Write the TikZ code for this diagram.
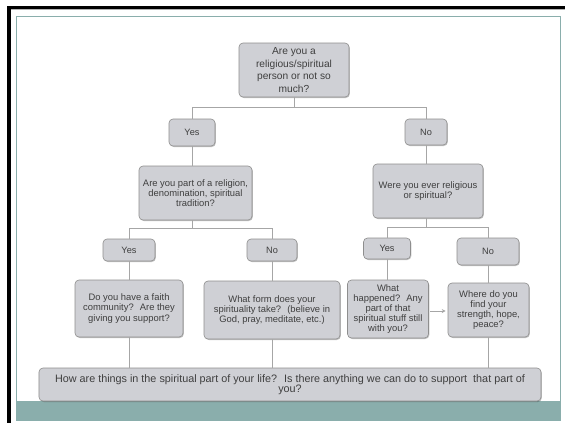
\documentclass[tikz,border=0pt]{standalone}
\usepackage{fontspec}
\setmainfont{Liberation Sans}
\usepackage{tikz}
\usetikzlibrary{
arrows.meta,
shadows
}
\definecolor{boxgray}{HTML}{CFD0D5}
\definecolor{edgegray}{HTML}{8E8E8E}
\definecolor{linegray}{HTML}{A6A6A6}
\definecolor{textgray}{HTML}{3F3F3F}
\definecolor{slideteal}{HTML}{8AAEAC}

\begin{document}
\begin{tikzpicture}[
        x=1bp, y=-1bp,
        every node/.style={align=center, text=textgray, inner sep=0pt},
        qbox/.style={draw=edgegray, fill=boxgray, rounded corners=4bp, line width=0.6bp,
            drop shadow={shadow xshift=0.8bp, shadow yshift=-1bp, fill=black, opacity=0.25}},
        ansbox/.style={qbox, font=\fontsize{9.2bp}{10bp}\selectfont},
        midtext/.style={font=\fontsize{9.4bp}{10.2bp}\selectfont},
        link/.style={draw=linegray, line width=0.9bp}
    ]
        \useasboundingbox (0,0) rectangle (565,423);

        % slide frame
        \fill[black] (7,5.5) rectangle (565,9);
        \draw[gray!60, line width=0.8bp] (11,9.6) -- (565,9.6);
        \fill[black] (7,5.5) rectangle (11,423);
        \fill[slideteal] (16,401) rectangle (560,420);
        \draw[slideteal, line width=1bp] (16,16) rectangle (560,420);

        % questions and answers
        \node[qbox, minimum width=110bp, minimum height=54bp, font=\fontsize{10.2bp}{12.7bp}\selectfont] (q1) at (294,70) {Are you a\\religious/spiritual\\person or not so\\much?};

        \node[ansbox, minimum width=46bp, minimum height=27bp] (yesA) at (192,132.5) {Yes};
        \node[ansbox, minimum width=42bp, minimum height=26bp] (noA) at (426,132) {No};

        \node[qbox, midtext, minimum width=113bp, minimum height=54bp] (q2L) at (195.5,193) {Are you part of a religion,\\denomination, spiritual\\tradition?};
        \node[qbox, midtext, minimum width=110bp, minimum height=54bp] (q2R) at (428,191) {Were you ever religious\\or spiritual?};

        \node[ansbox, minimum width=52bp, minimum height=22bp] (yesB) at (129,250) {Yes};
        \node[ansbox, minimum width=50bp, minimum height=22bp] (noB) at (272,250) {No};
        \node[ansbox, minimum width=47bp, minimum height=21bp] (yesC) at (387,248.5) {Yes};
        \node[ansbox, minimum width=62bp, minimum height=27bp] (noC) at (488,251.5) {No};

        \node[qbox, midtext, minimum width=108bp, minimum height=57bp] (q3a) at (129,308.5) {Do you have a faith\\community?~ Are they\\giving you support?};
        \node[qbox, midtext, minimum width=136bp, minimum height=58bp] (q3b) at (272,310) {What form does your\\spirituality take?~ (believe in\\God, pray, meditate, etc.)};
        \node[qbox, midtext, minimum width=81bp, minimum height=58bp] (q3c) at (388,309) {What\\happened?~ Any\\part of that\\spiritual stuff still\\with you?};
        \node[qbox, midtext, minimum width=81bp, minimum height=54bp] (q3d) at (488.5,310) {Where do you\\find your\\strength, hope,\\peace?};

        \node[qbox, minimum width=502bp, minimum height=33bp, font=\fontsize{10.8bp}{10.5bp}\selectfont] (last) at (290,384.5) {How are things in the spiritual part of your life?~ Is there anything we can do to support~ that part of\\you?};

        % connectors
        \draw[link] (q1.south) -- ++(0,10) -| (yesA.north);
        \draw[link] (q1.south) -- ++(0,10) -| (noA.north);
        \draw[link] (yesA.south) -- (yesA.south |- q2L.north);
        \draw[link] (noA.south) -- (noA.south |- q2R.north);
        \draw[link] (yesA.south |- q2L.south) -- ++(0,8) -| (yesB.north);
        \draw[link] (yesA.south |- q2L.south) -- ++(0,8) -| (noB.north);
        \draw[link] (noA.south |- q2R.south) -- ++(0,9) -| (yesC.north);
        \draw[link] (noA.south |- q2R.south) -- ++(0,9) -| (noC.north);
        \draw[link] (yesB.south) -- (yesB.south |- q3a.north);
        \draw[link] (noB.south) -- (noB.south |- q3b.north);
        \draw[link] (yesC.south) -- (yesC.south |- q3c.north);
        \draw[link] (noC.south) -- (noC.south |- q3d.north);
        \draw[link] (q3a.south) -- (q3a.south |- last.north);
        \draw[link] (q3b.south) -- (q3b.south |- last.north);
        \draw[link] (q3d.south) -- (q3d.south |- last.north);
        \draw[link, -{Stealth[length=4bp, width=4bp]}, shorten <=1.5bp, shorten >=2bp] ([yshift=-2bp]q3c.east) -- ([yshift=-2bp]q3c.east -| q3d.west);
    \end{tikzpicture}
\end{document}
